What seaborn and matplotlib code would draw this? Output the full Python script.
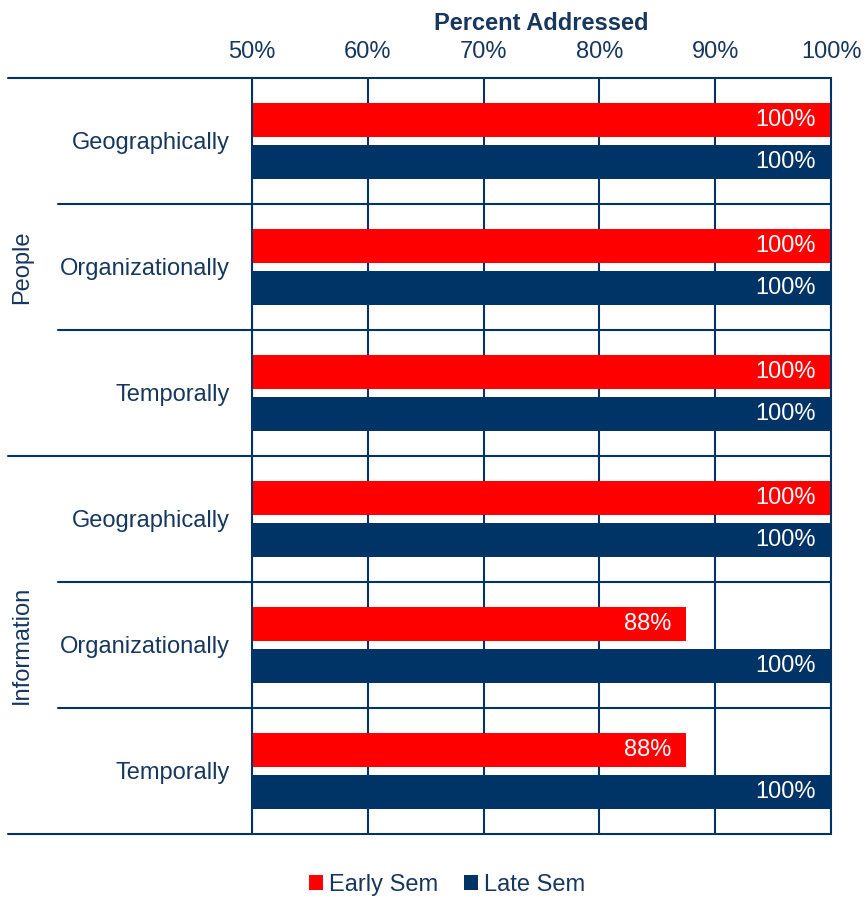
import matplotlib
matplotlib.use("Agg")
import matplotlib.pyplot as plt
import matplotlib.transforms as mtransforms
import seaborn as sns
import pandas as pd

# data
groups = ["People", "People", "People", "Information", "Information", "Information"]
aspects = ["Geographically", "Organizationally", "Temporally",
           "Geographically", "Organizationally", "Temporally"]
early_sem = [100, 100, 100, 100, 87.5, 87.5]
late_sem = [100, 100, 100, 100, 100, 100]
series = ["Early Sem", "Late Sem"]
x_ticks = [50, 60, 70, 80, 90, 100]

RED = "#FF0000"
NAVY = "#003366"
TEXT = "#17375E"

rows = [f"{g}|{a}" for g, a in zip(groups, aspects)]
df = pd.DataFrame({
    "row": rows * 2,
    "value": early_sem + late_sem,
    "series": [series[0]] * len(rows) + [series[1]] * len(rows),
})

sns.set_style("white")
plt.rcParams["font.family"] = ["Liberation Sans", "DejaVu Sans"]
FS = 17

fig = plt.figure(figsize=(8.65, 9), dpi=100)
ax = fig.add_axes([252 / 865, 1 - 834 / 900, (831 - 252) / 865, (834 - 78) / 900])

sns.barplot(data=df, x="value", y="row", hue="series", order=rows,
            hue_order=series, palette=[RED, NAVY], orient="h",
            width=0.66, gap=0.18, saturation=1, legend=True,
            linewidth=0, edgecolor="none", ax=ax)

ax.set_xlim(x_ticks[0], x_ticks[-1])
ax.set_ylim(len(rows) - 0.5, -0.5)

# x axis on top
ax.xaxis.tick_top()
ax.xaxis.set_label_position("top")
ax.set_xticks(x_ticks)
ax.set_xticklabels([f"{t}%" for t in x_ticks], fontsize=FS, color=TEXT)
ax.tick_params(axis="x", length=0, pad=11)
ax.set_xlabel("Percent Addressed", fontsize=FS, fontweight="bold", color=TEXT, labelpad=8)

ax.set_yticks(range(len(rows)))
ax.set_yticklabels(aspects, fontsize=FS, color=TEXT)
ax.tick_params(axis="y", length=0, pad=16)
ax.set_ylabel("")

ax.set_axisbelow(True)
ax.grid(axis="x", color=NAVY, lw=1.5)
ax.grid(axis="y", visible=False)
for side in ["top", "bottom"]:
    ax.spines[side].set_visible(False)
for side in ["left", "right"]:
    ax.spines[side].set_color(NAVY)
    ax.spines[side].set_linewidth(1.5)

# row separators, group separators reach further left
trans = mtransforms.blended_transform_factory(ax.transAxes, ax.transData)
for i in range(len(rows) + 1):
    b = i - 0.5
    is_group_edge = i == 0 or i == len(rows) or groups[i] != groups[i - 1]
    x0 = -0.421 if is_group_edge else -0.335
    ax.plot([x0, 1], [b, b], color=NAVY, lw=1.5, transform=trans, clip_on=False)

# group labels
for g in dict.fromkeys(groups):
    idx = [i for i, gg in enumerate(groups) if gg == g]
    ax.text(-0.397, sum(idx) / len(idx), g, transform=trans, rotation=90,
            ha="center", va="center", fontsize=FS, color=TEXT)

# value labels inside bar ends
for cont in ax.containers:
    for p in cont:
        w = p.get_width()
        ax.annotate(f"{w:.0f}%", (w, p.get_y() + p.get_height() / 2),
                    xytext=(-11, 0), textcoords="offset points",
                    ha="right", va="center", fontsize=FS, color="white")

handles, labels = ax.get_legend_handles_labels()
ax.get_legend().remove()
fig.legend(handles, labels, loc="center", bbox_to_anchor=(0.517, 0.017), ncol=2,
           frameon=False, fontsize=FS, labelcolor=TEXT, handlelength=0.6,
           handleheight=0.6, handletextpad=0.25, columnspacing=1.1)

fig.savefig("out.png", dpi=100)
